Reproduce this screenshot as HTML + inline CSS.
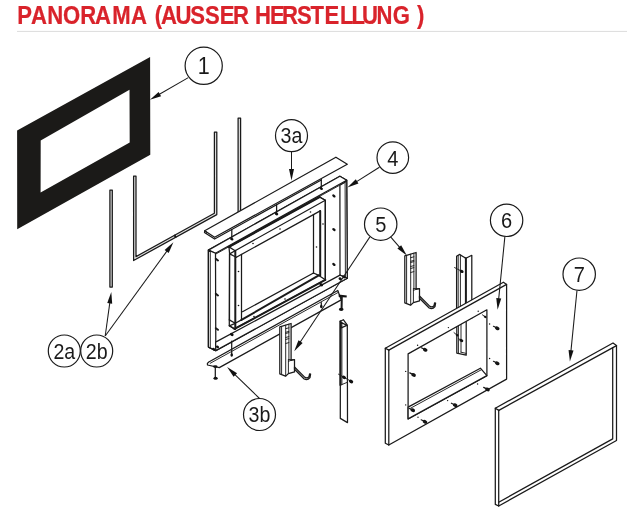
<!DOCTYPE html>
<html><head><meta charset="utf-8">
<style>
html,body{margin:0;padding:0;background:#fff;}
body{width:627px;height:514px;overflow:hidden;font-family:"Liberation Sans",sans-serif;}
svg{display:block;position:absolute;left:0;top:0;will-change:transform;}
.l{fill:none;stroke:#1a1a1a;stroke-width:1.25;stroke-linejoin:round;stroke-linecap:round;}
.w{fill:#fff;stroke:#1a1a1a;stroke-width:1.25;stroke-linejoin:round;}
.t{fill:none;stroke:#1f1f1f;stroke-width:0.95;stroke-linecap:round;stroke-linejoin:round;}
.k{fill:none;stroke:#1a1a1a;stroke-width:2.0;stroke-linecap:round;}
.c{fill:#fff;stroke:#1a1a1a;stroke-width:1.2;}
.n{font-family:"Liberation Sans",sans-serif;fill:#1a1a1a;text-anchor:middle;}
.a{fill:none;stroke:#1a1a1a;stroke-width:1.05;}
.h{fill:#111;stroke:none;}
.s{fill:#111;stroke:none;}
</style></head>
<body>
<svg width="627" height="514" viewBox="0 0 627 514">
<text transform="scale(0.85,1)" x="20.24 36.35 55.53 74.24 94.47 111.88 132.00 154.12 182.12 189.53 206.59 223.76 241.18 258.47 274.12 299.88 317.53 331.88 349.53 365.18 381.76 399.88 413.41 426.00 442.82 462.12 490.47" y="23.9" font-family="Liberation Sans, sans-serif" font-weight="bold" font-size="26" fill="#d9232b" stroke="#d9232b" stroke-width="0.25">PANORAMA(AUSSERHERSTELLUNG)</text>
<rect x="17" y="30.9" width="610" height="1" fill="#dcdcdc"/>
<path fill="#1b1a18" fill-rule="evenodd" d="M17.1,130.6 L150.1,57.1 L150.3,154.8 L17.2,229.2 Z M40.7,140.5 L129.5,89.7 L129.7,142.5 L40.6,192.6 Z"/>
<rect class="w" style="fill:#dcdcdc" x="109.9" y="190" width="2.4" height="97"/>
<rect class="w" style="fill:#dcdcdc" x="238.1" y="118" width="2.5" height="96"/>
<path class="w" style="fill:#e2e2e2" d="M133.60,176.00 L133.60,260.50 L216.80,214.60 L216.80,132.00 L214.40,132.00 L214.40,213.30 L136.00,256.60 L136.00,176.00 Z"/>
<path class="k" d="M174.80,235.60 L175.60,237.00"/>
<path class="w" d="M208.40,250.10 L339.90,176.20 L346.70,180.20 L347.30,278.30 L215.80,350.60 L208.40,347.10 Z"/>
<path class="w" d="M208.40,250.10 L339.90,176.20 L346.70,180.20 L215.50,253.20 Z"/>
<path class="t" d="M215.50,254.20 L345.10,182.20"/>
<path class="w" d="M208.40,250.10 L215.50,253.20 L215.80,350.60 L208.40,347.10 Z"/>
<path class="t" d="M210.30,251.00 L210.30,348.00"/>
<path class="w" d="M339.90,185.20 L345.10,182.20 L346.70,180.20 L347.30,278.30 L340.00,275.10 Z"/>
<path class="t" d="M345.10,182.20 L345.40,277.50"/>
<path class="w" d="M215.60,342.10 L340.00,275.10 L347.30,278.30 L215.80,350.60 Z"/>
<ellipse class="s" cx="333.9" cy="195.9" rx="1.88" ry="1.25" transform="rotate(35 333.9 195.9)"/>
<ellipse class="s" cx="333.9" cy="229.6" rx="1.88" ry="1.25" transform="rotate(35 333.9 229.6)"/>
<ellipse class="s" cx="333.9" cy="264.4" rx="1.88" ry="1.25" transform="rotate(35 333.9 264.4)"/>
<path class="k" d="M215.80,258.90 L218.00,260.50"/>
<path class="k" d="M215.80,293.90 L218.00,295.50"/>
<path class="k" d="M215.80,328.20 L218.00,329.80"/>
<path class="w" d="M229.00,246.90 L319.60,197.00 L325.30,200.30 L325.30,279.80 L234.50,328.90 L229.30,325.80 L229.30,319.90 L229.60,253.90 Z"/>
<path class="k" d="M229.00,246.90 L319.60,197.00"/>
<path class="l" d="M229.00,246.90 L235.10,250.70"/>
<path class="l" d="M235.10,250.70 L325.30,200.30"/>
<path class="l" d="M319.60,197.00 L325.30,200.30"/>
<path class="l" d="M229.60,253.90 L235.10,250.70"/>
<path class="l" d="M229.60,253.90 L236.40,257.20"/>
<path class="l" d="M236.40,257.20 L320.20,210.90"/>
<path class="l" d="M229.50,253.90 L229.50,319.90"/>
<path class="k" d="M235.30,250.70 L235.30,329.00"/>
<path class="l" d="M241.50,254.40 L241.50,319.90"/>
<path class="l" d="M313.50,214.60 L313.50,273.00"/>
<path class="k" d="M320.20,210.90 L320.20,275.40"/>
<path class="l" d="M325.30,200.30 L325.30,279.80"/>
<path class="l" d="M229.30,319.90 L235.20,323.30"/>
<path class="l" d="M235.20,323.30 L241.50,319.90"/>
<path class="k" d="M241.50,319.90 L318.80,275.40"/>
<path class="l" d="M242.50,311.70 L313.50,273.00"/>
<path class="l" d="M313.50,273.00 L318.80,275.40"/>
<path class="l" d="M229.30,325.80 L234.50,328.90"/>
<path class="l" d="M229.30,325.80 L235.20,323.30"/>
<path class="k" d="M234.50,328.90 L325.30,279.80"/>
<path class="l" d="M318.80,275.40 L325.30,279.80"/>
<circle class="s" cx="253.0" cy="243.5" r="0.8"/>
<circle class="s" cx="280.0" cy="229.0" r="0.8"/>
<circle class="s" cx="310.5" cy="212.0" r="0.8"/>
<circle class="s" cx="238.5" cy="271.5" r="0.8"/>
<circle class="s" cx="238.5" cy="305.5" r="0.8"/>
<circle class="s" cx="323.0" cy="224.0" r="0.8"/>
<circle class="s" cx="316.5" cy="247.0" r="0.8"/>
<circle class="s" cx="254.0" cy="316.5" r="0.8"/>
<circle class="s" cx="285.0" cy="299.0" r="0.8"/>
<ellipse class="s" cx="231.8" cy="334.5" rx="1.88" ry="1.50" transform="rotate(30 231.8 334.5)"/>
<ellipse class="s" cx="321.3" cy="284.7" rx="1.88" ry="1.50" transform="rotate(30 321.3 284.7)"/>
<ellipse class="s" cx="340.2" cy="278.8" rx="1.75" ry="1.38" transform="rotate(30 340.2 278.8)"/>
<ellipse class="s" cx="343.8" cy="276.9" rx="1.75" ry="1.38" transform="rotate(30 343.8 276.9)"/>
<ellipse class="s" cx="213.6" cy="349.2" rx="1.62" ry="1.25" transform="rotate(30 213.6 349.2)"/>
<ellipse class="s" cx="217.5" cy="346.9" rx="1.62" ry="1.25" transform="rotate(30 217.5 346.9)"/>
<path class="w" d="M204.70,230.80 L335.90,157.20 L347.30,164.20 L214.60,237.30 Z"/>
<path class="l" d="M204.70,230.80 L204.50,232.40 L205.60,233.20 L214.60,239.00 L321.30,180.00"/>
<path class="t" d="M206.30,231.50 L206.30,233.50"/>
<path class="l" d="M231.80,229.60 L231.80,238.60"/>
<ellipse class="s" cx="231.8" cy="239.2" rx="1.75" ry="1.25" transform="rotate(20 231.8 239.2)"/>
<path class="l" d="M276.60,204.80 L276.60,213.40"/>
<ellipse class="s" cx="276.6" cy="214.0" rx="1.75" ry="1.25" transform="rotate(20 276.6 214.0)"/>
<path class="l" d="M321.30,179.40 L321.30,188.00"/>
<ellipse class="s" cx="321.3" cy="188.6" rx="1.75" ry="1.25" transform="rotate(20 321.3 188.6)"/>
<path class="w" d="M208.80,362.00 L337.80,290.50 L341.20,299.90 L219.30,367.60 L207.50,365.00 L207.40,363.40 Z"/>
<path class="t" d="M210.20,363.30 L338.40,292.30"/>
<path class="l" d="M231.70,341.00 L231.70,355.50"/>
<ellipse class="s" cx="231.7" cy="355.0" rx="1.25" ry="1.75" transform="rotate(0 231.7 355.0)"/>
<path class="l" d="M321.30,302.60 L321.30,307.00"/>
<ellipse class="s" cx="321.3" cy="306.5" rx="1.25" ry="1.75" transform="rotate(0 321.3 306.5)"/>
<ellipse class="s" cx="215.3" cy="366.6" rx="2.25" ry="1.38" transform="rotate(0 215.3 366.6)"/>
<path class="l" d="M215.30,366.60 L215.30,377.50"/>
<ellipse class="s" cx="215.6" cy="378.2" rx="2.12" ry="1.50" transform="rotate(0 215.6 378.2)"/>
<path class="s" d="M338.6,294.6 L346.8,295.4 L346.6,297.4 L338.8,297 Z"/>
<path class="k" d="M341.80,296.00 L341.60,308.50"/>
<ellipse class="s" cx="341.2" cy="309.3" rx="2.38" ry="1.62" transform="rotate(0 341.2 309.3)"/>
<path class="w" d="M340.40,321.30 L343.30,319.70 L347.30,325.20 L347.50,422.60 L340.30,418.40 Z"/>
<path class="t" d="M341.90,322.50 L341.90,384.60"/>
<path class="k" d="M340.40,321.30 L340.40,385.00"/>
<path class="l" d="M340.80,322.20 L346.90,325.40 L341.20,327.80 Z"/>
<path class="t" d="M340.30,385.20 L347.50,382.20"/>
<path class="t" d="M338.50,374.20 L351.20,381.40"/>
<ellipse class="s" cx="344.0" cy="377.4" rx="2.12" ry="1.62" transform="rotate(30 344.0 377.4)"/>
<ellipse class="s" cx="351.1" cy="381.4" rx="2.25" ry="1.75" transform="rotate(30 351.1 381.4)"/>
<g transform="translate(0,0)">
<path class="w" d="M404.80,255.90 L416.10,252.50 L416.10,289.30 L419.50,288.60 L419.50,300.90 L413.40,302.60 L410.50,305.20 L404.80,302.90 Z"/>
<path class="t" d="M406.60,255.40 L406.60,303.60"/>
<path class="t" d="M410.70,254.20 L410.70,305.00"/>
<path class="t" d="M413.40,288.60 L413.40,302.60"/>
<path class="t" d="M413.40,288.60 L419.50,288.60"/>
<path class="t" d="M413.40,290.30 L416.30,289.30"/>
<path class="t" d="M413.90,253.20 L413.90,288.60"/>
<path class="t" d="M410.70,257.70 L413.90,256.80"/>
<path class="t" d="M410.70,261.30 L413.90,260.40"/>
<path class="t" d="M410.70,262.50 L413.90,261.60"/>
<path class="t" d="M410.70,266.50 L413.90,265.60"/>
<path class="t" d="M410.70,268.50 L413.90,267.60"/>
<path class="t" d="M410.70,272.50 L413.90,271.60"/>
<path class="w" d="M419.5,296.0 L429.9,306.4 Q432.5,307.6 434.0,305.6 L434.6,302.8 L435.6,303.2 L435.0,306.6 Q432.6,309.6 429.2,308.0 L419.5,298.2 Z"/>
</g>
<g transform="translate(-125,71)">
<path class="w" d="M404.80,255.90 L416.10,252.50 L416.10,289.30 L419.50,288.60 L419.50,300.90 L413.40,302.60 L410.50,305.20 L404.80,302.90 Z"/>
<path class="t" d="M406.60,255.40 L406.60,303.60"/>
<path class="t" d="M410.70,254.20 L410.70,305.00"/>
<path class="t" d="M413.40,288.60 L413.40,302.60"/>
<path class="t" d="M413.40,288.60 L419.50,288.60"/>
<path class="t" d="M413.40,290.30 L416.30,289.30"/>
<path class="t" d="M413.90,253.20 L413.90,288.60"/>
<path class="t" d="M410.70,257.70 L413.90,256.80"/>
<path class="t" d="M410.70,261.30 L413.90,260.40"/>
<path class="t" d="M410.70,262.50 L413.90,261.60"/>
<path class="t" d="M410.70,266.50 L413.90,265.60"/>
<path class="t" d="M410.70,268.50 L413.90,267.60"/>
<path class="t" d="M410.70,272.50 L413.90,271.60"/>
<path class="w" d="M419.5,296.0 L429.9,306.4 Q432.5,307.6 434.0,305.6 L434.6,302.8 L435.6,303.2 L435.0,306.6 Q432.6,309.6 429.2,308.0 L419.5,298.2 Z"/>
</g>
<path class="w" d="M456.60,256.30 L459.40,254.40 L465.90,258.30 L471.80,255.30 L471.80,318.00 L456.60,318.00 Z"/>
<path class="t" d="M458.20,255.40 L458.20,318.00"/>
<path class="t" d="M460.40,255.20 L460.40,318.00"/>
<path class="k" d="M465.90,258.30 L465.90,318.00"/>
<path class="w" d="M456.80,316.00 L466.20,316.00 L466.20,355.20 L456.80,353.10 Z"/>
<path class="t" d="M458.40,316.00 L458.40,353.40"/>
<path class="t" d="M461.00,316.00 L461.00,352.20"/>
<path class="t" d="M461.00,352.20 L466.20,353.40"/>
<path class="t" d="M454.60,267.60 L461.60,271.20"/>
<ellipse class="s" cx="461.7" cy="271.4" rx="2.00" ry="1.50" transform="rotate(25 461.7 271.4)"/>
<path class="t" d="M454.00,332.60 L457.50,335.60"/>
<ellipse class="s" cx="457.2" cy="335.2" rx="1.50" ry="1.12" transform="rotate(35 457.2 335.2)"/>
<path class="t" d="M458.50,338.60 L461.30,340.40"/>
<ellipse class="s" cx="461.4" cy="340.5" rx="2.00" ry="1.50" transform="rotate(25 461.4 340.5)"/>
<path class="w" fill-rule="evenodd" d="M385.3,348.2 L503.4,282.2 L506.6,284.4 L506.6,379.1 L388.8,445.0 L385.3,443.2 Z M408.1,353.9 L486.9,309.8 L486.9,375.6 L408.1,418.9 Z"/>
<path class="l" d="M385.30,348.20 L388.80,350.10"/>
<path class="l" d="M388.80,350.10 L506.60,284.40"/>
<path class="l" d="M388.80,350.10 L388.80,445.00"/>
<path class="w" d="M408.10,407.10 L480.40,368.20 L486.90,375.60 L408.10,418.90 Z"/>
<path class="t" d="M410.60,408.20 L481.60,369.60"/>
<ellipse class="s" cx="497.3" cy="328.3" rx="2.38" ry="1.75" transform="rotate(25 497.3 328.3)"/>
<path class="l" d="M493.50,326.30 L497.30,328.30"/>
<ellipse class="s" cx="497.3" cy="363.3" rx="2.38" ry="1.75" transform="rotate(25 497.3 363.3)"/>
<path class="l" d="M493.50,361.30 L497.30,363.30"/>
<ellipse class="s" cx="487.5" cy="389.4" rx="2.38" ry="1.75" transform="rotate(25 487.5 389.4)"/>
<path class="l" d="M483.70,387.40 L487.50,389.40"/>
<ellipse class="s" cx="455.2" cy="405.2" rx="2.38" ry="1.75" transform="rotate(25 455.2 405.2)"/>
<path class="l" d="M451.40,403.20 L455.20,405.20"/>
<ellipse class="s" cx="425.0" cy="421.8" rx="2.38" ry="1.75" transform="rotate(25 425.0 421.8)"/>
<path class="l" d="M421.20,419.80 L425.00,421.80"/>
<ellipse class="s" cx="412.8" cy="410.2" rx="2.38" ry="1.75" transform="rotate(25 412.8 410.2)"/>
<path class="l" d="M409.00,408.20 L412.80,410.20"/>
<ellipse class="s" cx="413.6" cy="374.9" rx="2.38" ry="1.75" transform="rotate(25 413.6 374.9)"/>
<path class="l" d="M409.80,372.90 L413.60,374.90"/>
<ellipse class="s" cx="425.2" cy="349.8" rx="2.38" ry="1.75" transform="rotate(25 425.2 349.8)"/>
<path class="l" d="M421.40,347.80 L425.20,349.80"/>
<path class="t" d="M482.40,314.80 L485.60,317.20"/>
<ellipse class="s" cx="485.2" cy="316.9" rx="1.50" ry="1.12" transform="rotate(35 485.2 316.9)"/>
<circle class="s" cx="448.4" cy="327.6" r="0.7"/>
<circle class="s" cx="478.2" cy="311.2" r="0.7"/>
<circle class="s" cx="489.6" cy="324.0" r="0.7"/>
<circle class="s" cx="489.6" cy="358.5" r="0.7"/>
<circle class="s" cx="477.6" cy="384.0" r="0.7"/>
<circle class="s" cx="447.6" cy="400.6" r="0.7"/>
<circle class="s" cx="418.0" cy="417.2" r="0.7"/>
<circle class="s" cx="405.7" cy="404.9" r="0.7"/>
<circle class="s" cx="405.7" cy="371.4" r="0.7"/>
<circle class="s" cx="417.6" cy="345.2" r="0.7"/>
<path class="w" d="M495.30,408.20 L613.00,343.00 L616.50,345.60 L616.50,440.50 L498.70,506.00 L495.30,504.40 Z"/>
<path class="l" d="M495.30,408.20 L498.80,410.40"/>
<path class="l" d="M498.80,410.40 L616.50,345.60"/>
<path class="l" d="M498.70,410.40 L498.70,506.00"/>
<path class="l" d="M498.70,502.20 L612.70,438.90 L612.70,347.60"/>
<path class="a" d="M188.30,77.60 L158.12,95.05"/>
<path class="h" d="M149.90,99.80 L158.60,91.88 L161.11,96.21 Z"/>
<path class="a" d="M105.20,336.00 L110.00,301.41"/>
<path class="h" d="M111.30,292.00 L112.20,303.73 L107.24,303.05 Z"/>
<path class="a" d="M105.20,336.00 L167.81,249.88"/>
<path class="h" d="M173.40,242.20 L168.66,252.97 L164.62,250.03 Z"/>
<path class="a" d="M291.50,151.70 L291.50,171.10"/>
<path class="h" d="M291.50,180.60 L289.00,169.10 L294.00,169.10 Z"/>
<path class="a" d="M379.40,167.30 L355.44,182.35"/>
<path class="h" d="M347.40,187.40 L355.81,179.17 L358.47,183.40 Z"/>
<path class="a" d="M390.60,236.90 L400.58,248.42"/>
<path class="h" d="M406.80,255.60 L397.38,248.54 L401.16,245.27 Z"/>
<path class="a" d="M369.90,236.90 L299.45,343.28"/>
<path class="h" d="M294.20,351.20 L298.47,340.23 L302.63,342.99 Z"/>
<path class="a" d="M504.90,236.40 L498.54,300.35"/>
<path class="h" d="M497.60,309.80 L496.25,298.11 L501.23,298.60 Z"/>
<path class="a" d="M577.00,290.20 L570.84,352.15"/>
<path class="h" d="M569.90,361.60 L568.55,349.91 L573.53,350.40 Z"/>
<path class="a" d="M259.50,398.50 L233.90,373.53"/>
<path class="h" d="M227.10,366.90 L237.08,373.14 L233.59,376.72 Z"/>
<circle class="c" cx="203.7" cy="65.8" r="18.6"/>
<text class="n" transform="translate(203.7,74.39999999999999) scale(0.88,1)" font-size="24.5">1</text>
<circle class="c" cx="291.5" cy="135.7" r="16"/>
<text class="n" transform="translate(291.5,143.39999999999998) scale(0.9,1)" font-size="21.8">3a</text>
<circle class="c" cx="392.8" cy="157.6" r="15.8"/>
<text class="n" transform="translate(392.8,165.5) scale(0.9,1)" font-size="22.3">4</text>
<circle class="c" cx="380.7" cy="224.2" r="16.2"/>
<text class="n" transform="translate(380.7,232.1) scale(0.9,1)" font-size="22.3">5</text>
<circle class="c" cx="506.6" cy="220.3" r="16.2"/>
<text class="n" transform="translate(506.6,228.20000000000002) scale(0.9,1)" font-size="22.3">6</text>
<circle class="c" cx="579.2" cy="274.2" r="16.2"/>
<text class="n" transform="translate(579.2,282.09999999999997) scale(0.9,1)" font-size="22.3">7</text>
<circle class="c" cx="64.3" cy="351" r="16"/>
<text class="n" transform="translate(64.3,358.7) scale(0.9,1)" font-size="21.8">2a</text>
<circle class="c" cx="96.7" cy="351" r="16"/>
<text class="n" transform="translate(96.7,358.7) scale(0.9,1)" font-size="21.8">2b</text>
<circle class="c" cx="259.5" cy="414.5" r="16"/>
<text class="n" transform="translate(259.5,422.2) scale(0.9,1)" font-size="21.8">3b</text>
</svg>
</body></html>
